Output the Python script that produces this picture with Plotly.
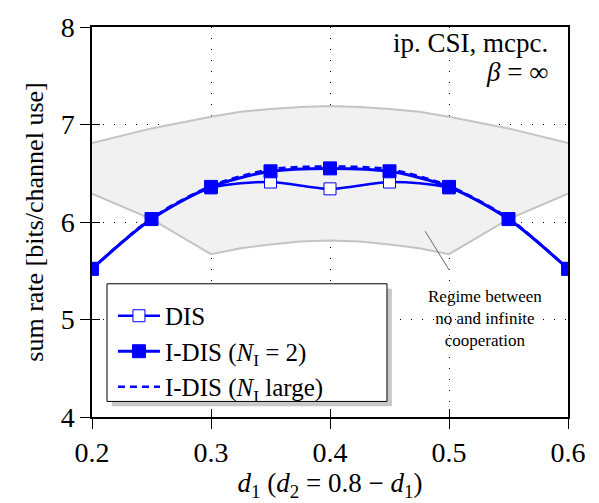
import plotly.graph_objects as go

# data
d1 = [0.2, 0.25, 0.3, 0.35, 0.4, 0.45, 0.5, 0.55, 0.6]
dis = [5.52, 6.03, 6.35, 6.41, 6.34, 6.41, 6.35, 6.03, 5.52]
idis2 = [5.52, 6.03, 6.36, 6.52, 6.55, 6.52, 6.36, 6.03, 5.52]
idis_large = [5.52, 6.04, 6.37, 6.54, 6.57, 6.54, 6.37, 6.04, 5.52]

band_x = [0.2, 0.25, 0.3, 0.325, 0.35, 0.375, 0.4, 0.425, 0.45, 0.475, 0.5, 0.55, 0.6]
band_upper = [6.81, 6.96, 7.08, 7.13, 7.16, 7.18, 7.19, 7.18, 7.16, 7.13, 7.08, 6.96, 6.81]
band_lower = [6.29, 6.03, 5.67, 5.73, 5.77, 5.80, 5.81, 5.80, 5.77, 5.73, 5.67, 6.03, 6.29]

xticks = [0.2, 0.3, 0.4, 0.5, 0.6]
xticklabels = ["0.2", "0.3", "0.4", "0.5", "0.6"]
yticks = [4, 5, 6, 7, 8]

SERIF = "Liberation Serif"
BLUE = "#0000ff"

fig = go.Figure()

# band
fig.add_trace(go.Scatter(x=band_x, y=band_lower, mode="lines",
                         line=dict(color="#c4c4c4", width=2), showlegend=False,
                         hoverinfo="skip"))
fig.add_trace(go.Scatter(x=band_x, y=band_upper, mode="lines", fill="tonexty",
                         fillcolor="#f1f1f1",
                         line=dict(color="#c4c4c4", width=2), showlegend=False,
                         hoverinfo="skip"))

fig.add_trace(go.Scatter(x=d1, y=dis, mode="lines+markers", name="DIS",
                         line=dict(color=BLUE, width=2.5, shape="spline", smoothing=0.8),
                         marker=dict(symbol="square", size=12, color="white",
                                     line=dict(color=BLUE, width=1))))
fig.add_trace(go.Scatter(x=d1, y=idis2, mode="lines+markers",
                         name="I-DIS (<i>N</i><sub>I</sub> = 2)",
                         line=dict(color=BLUE, width=3, shape="spline", smoothing=0.8),
                         marker=dict(symbol="square", size=13, color=BLUE,
                                     line=dict(color=BLUE, width=1))))
fig.add_trace(go.Scatter(x=d1, y=idis_large, mode="lines",
                         name="I-DIS (<i>N</i><sub>I</sub> large)",
                         line=dict(color=BLUE, width=2.5, dash="7px,5px",
                                   shape="spline", smoothing=0.8)))

# dummy trace for overlay axes (inside ticks)
fig.add_trace(go.Scatter(x=[0.2], y=[4], xaxis="x2", yaxis="y2", mode="markers",
                         marker=dict(opacity=0), showlegend=False, hoverinfo="skip"))

grid_common = dict(showgrid=True, gridcolor="black", gridwidth=1, griddash="1px,10px")

fig.update_layout(
    width=599, height=503,
    margin=dict(l=92, r=31, t=20, b=82),
    paper_bgcolor="white", plot_bgcolor="white",
    font=dict(family=SERIF, size=26, color="black"),
    xaxis=dict(range=[0.2, 0.6], tickvals=xticks, ticktext=xticklabels,
               ticks="outside", ticklen=10, tickwidth=1, tickcolor="black",
               showline=True, linecolor="black", linewidth=1.5, mirror=True,
               zeroline=False, tickfont=dict(size=28),
               title=dict(text="<i>d</i><sub>1</sub> (<i>d</i><sub>2</sub> = 0.8 − <i>d</i><sub>1</sub>)",
                          font=dict(size=27), standoff=4),
               **grid_common),
    yaxis=dict(range=[4, 8], tickvals=yticks,
               ticks="outside", ticklen=10, tickwidth=1, tickcolor="black",
               showline=True, linecolor="black", linewidth=1.5, mirror=True,
               zeroline=False, tickfont=dict(size=28),
               title=dict(text="sum rate [bits/channel use]", font=dict(size=26), standoff=10),
               **grid_common),
    xaxis2=dict(range=[0.2, 0.6], tickvals=xticks, overlaying="x", side="bottom",
                ticks="inside", ticklen=8, tickwidth=1, tickcolor="black",
                showticklabels=False, showgrid=False, zeroline=False, showline=False),
    yaxis2=dict(range=[4, 8], tickvals=yticks, overlaying="y", side="left",
                ticks="inside", ticklen=8, tickwidth=1, tickcolor="black",
                showticklabels=False, showgrid=False, zeroline=False, showline=False),
    legend=dict(x=0.044, y=0.318, xanchor="left", yanchor="top",
                bgcolor="rgba(0,0,0,0)", borderwidth=0,
                font=dict(family=SERIF, size=25), tracegroupgap=0,
                traceorder="normal", itemwidth=42),
    showlegend=True,
)

# legend shadow and box
fig.add_shape(type="rect", xref="paper", yref="paper",
              x0=0.042, x1=0.630, y0=0.0274, y1=0.329,
              fillcolor="#c8c8c8", line=dict(width=0), layer="above")
fig.add_shape(type="rect", xref="paper", yref="paper",
              x0=0.0315, x1=0.6197, y0=0.0399, y1=0.3416,
              fillcolor="white", line=dict(color="black", width=1), layer="above")

fig.add_annotation(text="ip. CSI, mcpc.", xref="paper", yref="paper", x=0.962, y=0.96,
                   xanchor="right", yanchor="middle", showarrow=False,
                   font=dict(family=SERIF, size=27))
fig.add_annotation(text="<i>β</i> = ∞", xref="paper", yref="paper", x=0.962, y=0.885,
                   xanchor="right", yanchor="middle", showarrow=False,
                   font=dict(family=SERIF, size=27))
fig.add_annotation(text="Regime between<br>no and infinite<br>cooperation",
                   x=0.5, y=5.01, xref="x", yref="y", xshift=36, showarrow=False,
                   font=dict(family=SERIF, size=17))
fig.add_shape(type="line", x0=0.5, y0=5.51, x1=0.48, y1=5.905, xref="x", yref="y",
              line=dict(color="#666666", width=1))

fig.write_html("out.html")
